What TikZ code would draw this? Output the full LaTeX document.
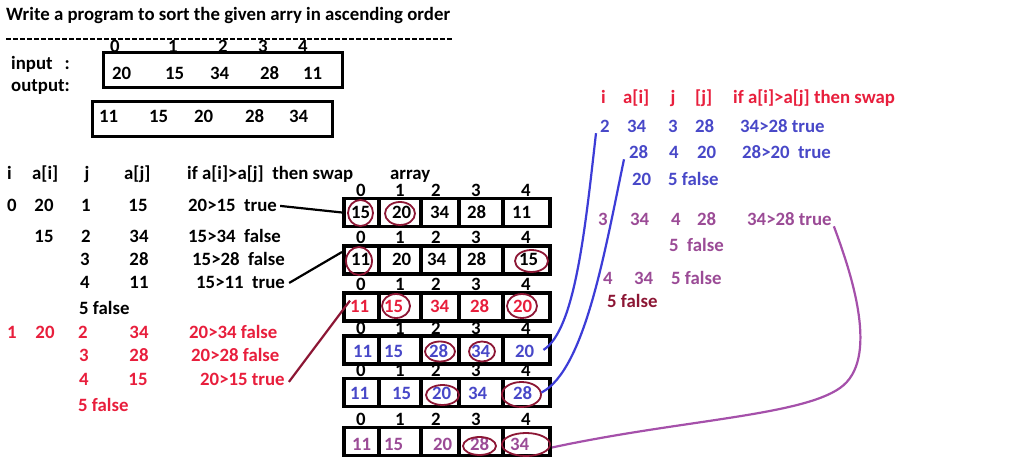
\documentclass[tikz,border=0pt]{standalone}
\usepackage{fontspec}
\setmainfont{Carlito}
\usetikzlibrary{calc}
\definecolor{tred}{RGB}{232,30,60}
\definecolor{tblue}{RGB}{72,72,200}
\definecolor{tpurp}{RGB}{155,75,150}
\definecolor{cred}{RGB}{140,22,52}
\definecolor{lblue}{RGB}{60,60,215}
\definecolor{lpurp}{RGB}{165,80,170}
\newcommand{\fz}{\fontsize{18.8}{22}\selectfont\bfseries}
\begin{document}
\begin{tikzpicture}[x=1pt,y=-1pt,
  t/.style={inner sep=0pt, anchor=base west, font=\fz},
  tc/.style={inner sep=0pt, anchor=base, font=\fz},
  cell/.style={draw, line width=3.5pt, minimum height=28pt, inner sep=0pt},
  circ/.style={draw=cred, line width=1.8pt},
  conn/.style={line width=2.2pt},
  box/.style={draw, line width=3pt}]
\useasboundingbox[fill=white] (0,0) rectangle (1029,462);

% title
\node[t] (title) at (6,21) {Write a program to sort the given arry in ascending order};
\coordinate (dl) at (6,39);
\coordinate (dr) at (452,39);
\draw[line width=1.2pt, dash pattern=on 5pt off 2pt] (dl) -- (dr);

% input / output
\node[t] (inlab) at (11,70) {input\hspace{12pt}:};
\node[t] (outlab) at (11,92) {output:};
\node[box, minimum width=239pt, minimum height=35pt, inner sep=0pt] (inbox) at (222.5,70.5) {};
\node[box, minimum width=240pt, minimum height=35pt, inner sep=0pt] (outbox) at (212,119.5) {};
\foreach \n/\x in {0/115,1/173,2/223,3/263,4/303}
  \node[tc] (ii\n) at (\x,53) {\n};
\foreach \v/\x [count=\k] in {20/112,15/165,34/210,28/260,11/303}
  \node[t] (iv\k) at (\x,80) {\v};
\foreach \v/\x [count=\k] in {11/99,15/149,20/194,28/245,34/289}
  \node[t] (ov\k) at (\x,123) {\v};

% left table headers
\node[t] (hi) at (7,180) {i};
\node[t] (hai) at (32,180) {a[i]};
\node[tc] (hj) at (87,180) {j};
\node[t] (haj) at (124,180) {a[j]};
\node[t] (hif) at (187,180) {if a[i]>a[j]\ \ then swap};
\node[t] (harr) at (390,180) {array};

% left table rows (black)
\node[t] (l1i) at (7,212) {0};
\node[tc] (l1a) at (44,212) {20};
\node[tc] (l1j) at (86,212) {1};
\node[tc] (l1b) at (138,212) {15};
\node[t] (l1t) at (188,212) {20>15\ \ true};
\node[tc] (l2a) at (44,243) {15};
\node[tc] (l2j) at (86,243) {2};
\node[tc] (l2b) at (139,243) {34};
\node[t] (l2t) at (188,243) {15>34\ \ false};
\node[tc] (l3j) at (85,266) {3};
\node[tc] (l3b) at (139,266) {28};
\node[t] (l3t) at (192,266) {15>28\ \ false};
\node[tc] (l4j) at (85,289) {4};
\node[tc] (l4b) at (139,289) {11};
\node[t] (l4t) at (196,289) {15>11\ \ true};
\node[t] (l5) at (79,315) {5 false};

% left table rows (red)
\begin{scope}[every node/.append style={text=tred}]
\node[t] (m1i) at (7,339) {1};
\node[tc] (m1a) at (45,339) {20};
\node[tc] (m1j) at (83,339) {2};
\node[tc] (m1b) at (139,339) {34};
\node[t] (m1t) at (189,339) {20>34 false};
\node[tc] (m2j) at (84,362) {3};
\node[tc] (m2b) at (139,362) {28};
\node[t] (m2t) at (191,362) {20>28 false};
\node[tc] (m3j) at (84,386) {4};
\node[tc] (m3b) at (138,386) {15};
\node[t] (m3t) at (200,386) {20>15 true};
\node[t] (m4) at (78,412) {5 false};
\end{scope}

% arrays: cells
\foreach \r/\y in {1/212.5,2/260,3/307,4/350,5/392.5,6/441.5}{
  \node[cell, minimum width=35.25pt] (r\r c1) at (361.4,\y) {};
  \node[cell, minimum width=42pt] (r\r c2) at (400,\y) {};
  \node[cell, minimum width=38pt] (r\r c3) at (440,\y) {};
  \node[cell, minimum width=44pt] (r\r c4) at (481,\y) {};
  \node[cell, minimum width=47.25pt] (r\r c5) at (526.6,\y) {};
}
% index labels above arrays
\foreach \r/\y in {1/197,2/244,3/291,4/335,5/377,6/426}{
  \foreach \n/\x in {0/361,1/400,2/436,3/476,4/526}
    \node[tc] (r\r i\n) at (\x,\y) {\n};
}
% array values
\foreach \v/\x [count=\k] in {15/351,20/392,34/430,28/467,11/512}
  \node[t] (r1v\k) at (\x,219) {\v};
\foreach \v/\x [count=\k] in {11/351,20/392,34/427,28/467,15/519}
  \node[t] (r2v\k) at (\x,266) {\v};
\foreach \v/\x [count=\k] in {11/350,15/384,34/430,28/470,20/513}
  \node[t, text=tred] (r3v\k) at (\x,313) {\v};
\foreach \v/\x [count=\k] in {11/353,15/384,28/429,34/471,20/515}
  \node[t, text=tblue] (r4v\k) at (\x,358) {\v};
\foreach \v/\x [count=\k] in {11/350,15/392,20/432,34/468,28/513}
  \node[t, text=tblue] (r5v\k) at (\x,400) {\v};
\foreach \v/\x [count=\k] in {11/352,15/384,20/433,28/470,34/510}
  \node[t, text=tpurp] (r6v\k) at (\x,450) {\v};

% circles
\draw[circ] (360.5,213) ellipse [x radius=12.5pt, y radius=13pt];
\draw[circ] (400,213.5) ellipse [x radius=15pt, y radius=11.5pt];
\draw[circ] (359,261) ellipse [x radius=13pt, y radius=14pt];
\draw[circ] (531.5,261) ellipse [x radius=16.5pt, y radius=11pt];
\draw[circ] (396,306) ellipse [x radius=14pt, y radius=12pt];
\draw[circ] (522,306) ellipse [x radius=15pt, y radius=12pt];
\draw[circ] (440,351.5) ellipse [x radius=15pt, y radius=10pt];
\draw[circ] (482,351.5) ellipse [x radius=13pt, y radius=10pt];
\draw[circ] (442.5,395) ellipse [x radius=16.5pt, y radius=10pt];
\draw[circ] (521.5,394.5) ellipse [x radius=19.5pt, y radius=12.5pt];
\draw[circ] (479.5,446) ellipse [x radius=16.5pt, y radius=9pt];
\draw[circ] (526,444.5) ellipse [x radius=24pt, y radius=11.5pt];

% right table header (red)
\begin{scope}[every node/.append style={text=tred}]
\node[t] (rhi) at (601,104) {i};
\node[t] (rhai) at (623,104) {a[i]};
\node[tc] (rhj) at (673,104) {j};
\node[t] (rhaj) at (695,104) {[j]};
\node[t] (rhif) at (733,104) {if a[i]>a[j] then swap};
\end{scope}
% right table blue rows
\begin{scope}[every node/.append style={text=tblue}]
\node[t] (b1i) at (600,133) {2};
\node[t] (b1a) at (627,133) {34};
\node[t] (b1j) at (668,133) {3};
\node[t] (b1b) at (695,133) {28};
\node[t] (b1t) at (740,133) {34>28 true};
\node[t] (b2a) at (629,159) {28};
\node[t] (b2j) at (669,159) {4};
\node[t] (b2b) at (697,159) {20};
\node[t] (b2t) at (742,159) {28>20\ \ true};
\node[t] (b3a) at (632,186) {20};
\node[t] (b3t) at (668,186) {5 false};
\end{scope}
% right table purple rows
\begin{scope}[every node/.append style={text=tpurp}]
\node[t] (p1i) at (598,226) {3};
\node[t] (p1a) at (630,226) {34};
\node[t] (p1j) at (671,226) {4};
\node[t] (p1b) at (697,226) {28};
\node[t] (p1t) at (747,226) {34>28 true};
\node[t] (p2t) at (669,252) {5\ \ false};
\node[t] (p3i) at (603,285) {4};
\node[t] (p3a) at (634,285) {34};
\node[t] (p3t) at (671,285) {5 false};
\end{scope}
\node[t, text=cred] (q1) at (607,308) {5 false};

% connectors
\draw[conn] ([xshift=3pt]l1t.east) -- (r1c1.west);
\draw[conn] ([xshift=4pt]l4t.east) -- ([yshift=8pt]r2c1.west);
\draw[conn, draw=cred] ([xshift=4pt,yshift=-2pt]m3t.east) -- (r3v1.north west);
\draw[conn, draw=lblue] ([xshift=9pt,yshift=2pt]r4v5.east)
  .. controls (575,330) and (585,230) .. ([xshift=-4pt]b1i.south west);
\draw[conn, draw=lblue] ([xshift=9pt,yshift=1pt]r5v5.east)
  .. controls (585,370) and (605,250) .. ([xshift=-5pt]b2a.south west);
\draw[conn, draw=lpurp] ([xshift=2pt]p1t.south east)
  .. controls (852,275) and (880,360) .. (840,388)
  .. controls (800,416) and (680,420) .. ([yshift=-6pt]r6c5.east);
\end{tikzpicture}
\end{document}
